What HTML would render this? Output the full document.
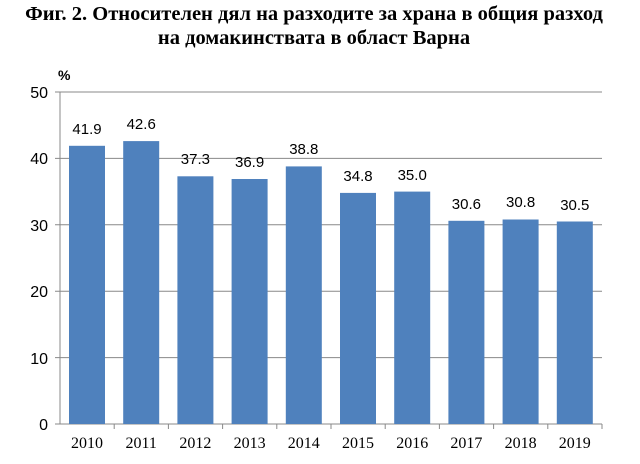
<!DOCTYPE html>
<html><head><meta charset="utf-8"><style>
body{margin:0;background:#fff;width:640px;height:459px;overflow:hidden}
</style></head><body>
<svg width="640" height="459" xmlns="http://www.w3.org/2000/svg" font-family="Liberation Serif, serif">
<text x="314" y="20" text-anchor="middle" font-size="20.5" font-weight="bold">Фиг. 2. Относителен дял на разходите за храна в общия разход</text>
<text x="314" y="44" text-anchor="middle" font-size="20.5" font-weight="bold">на домакинствата в област Варна</text>
<text x="58" y="80" font-size="14" font-weight="bold" font-family="Liberation Sans, sans-serif">%</text>
<g stroke="#888" stroke-width="1">
<line x1="55" y1="92" x2="602" y2="92"/>
<line x1="55" y1="158.4" x2="602" y2="158.4"/>
<line x1="55" y1="224.8" x2="602" y2="224.8"/>
<line x1="55" y1="291.2" x2="602" y2="291.2"/>
<line x1="55" y1="357.6" x2="602" y2="357.6"/>
<line x1="60" y1="92" x2="60" y2="424"/>
<line x1="55" y1="424" x2="602" y2="424"/>
<line x1="114.2" y1="424" x2="114.2" y2="429"/><line x1="168.4" y1="424" x2="168.4" y2="429"/><line x1="222.6" y1="424" x2="222.6" y2="429"/><line x1="276.8" y1="424" x2="276.8" y2="429"/><line x1="331" y1="424" x2="331" y2="429"/><line x1="385.2" y1="424" x2="385.2" y2="429"/><line x1="439.4" y1="424" x2="439.4" y2="429"/><line x1="493.6" y1="424" x2="493.6" y2="429"/><line x1="547.8" y1="424" x2="547.8" y2="429"/><line x1="602" y1="424" x2="602" y2="429"/>
</g>
<g font-size="16" text-anchor="end" fill="#000" font-family="Liberation Sans, sans-serif">
<text x="48" y="98">50</text><text x="48" y="164">40</text><text x="48" y="231">30</text><text x="48" y="297">20</text><text x="48" y="364">10</text><text x="48" y="430">0</text>
</g>
<g fill="#4f81bd">
<rect x="69" y="145.8" width="36" height="278.2"/>
<rect x="123.2" y="141.1" width="36" height="282.9"/>
<rect x="177.4" y="176.3" width="36" height="247.7"/>
<rect x="231.6" y="179" width="36" height="245"/>
<rect x="285.8" y="166.4" width="36" height="257.6"/>
<rect x="340" y="192.9" width="36" height="231.1"/>
<rect x="394.2" y="191.6" width="36" height="232.4"/>
<rect x="448.4" y="220.8" width="36" height="203.2"/>
<rect x="502.6" y="219.5" width="36" height="204.5"/>
<rect x="556.8" y="221.5" width="36" height="202.5"/>
</g>
<g font-size="15" text-anchor="middle" font-family="Liberation Sans, sans-serif">
<text x="87" y="134">41.9</text>
<text x="141.2" y="129">42.6</text>
<text x="195.4" y="164">37.3</text>
<text x="249.6" y="167">36.9</text>
<text x="303.8" y="154">38.8</text>
<text x="358" y="181">34.8</text>
<text x="412.2" y="180">35.0</text>
<text x="466.4" y="209">30.6</text>
<text x="520.6" y="207">30.8</text>
<text x="574.8" y="210">30.5</text>
</g>
<g font-size="16" text-anchor="middle">
<text x="87" y="448">2010</text><text x="141.2" y="448">2011</text><text x="195.4" y="448">2012</text><text x="249.6" y="448">2013</text><text x="303.8" y="448">2014</text><text x="358" y="448">2015</text><text x="412.2" y="448">2016</text><text x="466.4" y="448">2017</text><text x="520.6" y="448">2018</text><text x="574.8" y="448">2019</text>
</g>
</svg>
</body></html>
